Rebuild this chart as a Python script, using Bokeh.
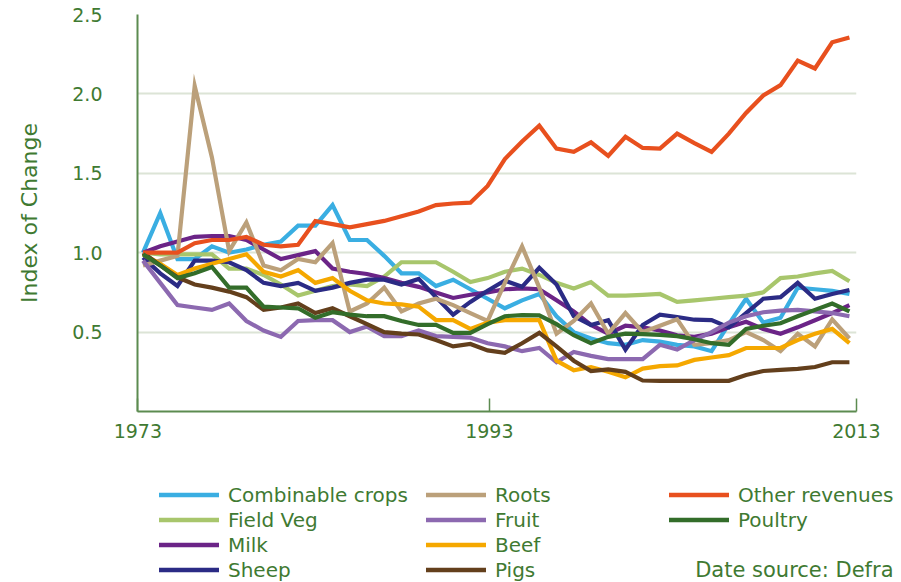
from bokeh.plotting import figure
from bokeh.layouts import column
from bokeh.models import (FixedTicker, CustomJSTickFormatter, PrintfTickFormatter,
                          Legend, LegendItem, Label, Range1d)
from bokeh.embed import file_html
from bokeh.resources import INLINE

# ---------------- data ----------------
years = list(range(1973, 2015))
x_tick_labels = ["1973", "1993", "2013"]
y_ticks = [0.5, 1.0, 1.5, 2.0, 2.5]

combinable_crops = [1.0, 1.25, 0.96, 0.96, 1.04, 1.0, 1.02, 1.05, 1.07, 1.17, 1.17, 1.30, 1.08, 1.08,
                    0.98, 0.87, 0.87, 0.79, 0.83, 0.77, 0.71, 0.65, 0.70, 0.74, 0.60, 0.50, 0.46, 0.43,
                    0.42, 0.45, 0.44, 0.42, 0.41, 0.38, 0.55, 0.71, 0.56, 0.59, 0.78, 0.77, 0.76, 0.74]
field_veg = [1.0, 0.99, 0.99, 0.99, 0.99, 0.90, 0.90, 0.86, 0.80, 0.73, 0.76, 0.79, 0.80, 0.79,
             0.85, 0.94, 0.94, 0.94, 0.88, 0.815, 0.84, 0.88, 0.90, 0.86, 0.81, 0.775, 0.815, 0.73,
             0.73, 0.735, 0.74, 0.69, 0.70, 0.71, 0.72, 0.73, 0.75, 0.84, 0.85, 0.87, 0.885, 0.82]
milk = [1.0, 1.04, 1.07, 1.10, 1.105, 1.105, 1.08, 1.02, 0.96, 0.985, 1.01, 0.90, 0.88, 0.866,
        0.84, 0.81, 0.785, 0.75, 0.715, 0.735, 0.75, 0.77, 0.775, 0.77, 0.70, 0.63, 0.545, 0.49,
        0.54, 0.53, 0.51, 0.48, 0.47, 0.49, 0.53, 0.565, 0.52, 0.49, 0.53, 0.575, 0.62, 0.67]
sheep = [0.97, 0.87, 0.79, 0.95, 0.95, 0.94, 0.89, 0.81, 0.79, 0.81, 0.76, 0.78, 0.81, 0.83,
         0.83, 0.80, 0.835, 0.72, 0.61, 0.69, 0.76, 0.825, 0.785, 0.905, 0.80, 0.60, 0.545, 0.575,
         0.39, 0.545, 0.61, 0.595, 0.578, 0.576, 0.53, 0.62, 0.71, 0.72, 0.81, 0.71, 0.74, 0.765]
roots = [0.92, 0.95, 0.98, 2.05, 1.60, 1.01, 1.19, 0.92, 0.89, 0.96, 0.94, 1.06, 0.63, 0.68,
         0.78, 0.63, 0.68, 0.71, 0.67, 0.62, 0.57, 0.81, 1.04, 0.78, 0.49, 0.57, 0.68, 0.49,
         0.62, 0.50, 0.54, 0.58, 0.42, 0.43, 0.45, 0.50, 0.45, 0.38, 0.49, 0.41, 0.58, 0.46]
fruit = [0.95, 0.81, 0.67, 0.655, 0.64, 0.68, 0.57, 0.51, 0.47, 0.57, 0.575, 0.575, 0.50, 0.535,
         0.475, 0.475, 0.51, 0.475, 0.47, 0.465, 0.43, 0.41, 0.38, 0.40, 0.31, 0.375, 0.35, 0.33,
         0.33, 0.33, 0.42, 0.39, 0.45, 0.50, 0.56, 0.60, 0.625, 0.635, 0.64, 0.63, 0.62, 0.60]
beef = [0.99, 0.93, 0.86, 0.90, 0.93, 0.96, 0.99, 0.88, 0.85, 0.89, 0.81, 0.84, 0.76, 0.70,
        0.68, 0.675, 0.66, 0.576, 0.576, 0.52, 0.56, 0.575, 0.575, 0.575, 0.32, 0.26, 0.28, 0.25,
        0.215, 0.27, 0.286, 0.29, 0.325, 0.34, 0.355, 0.40, 0.40, 0.40, 0.45, 0.49, 0.52, 0.43]
pigs = [1.0, 0.92, 0.845, 0.80, 0.78, 0.755, 0.72, 0.64, 0.655, 0.68, 0.62, 0.65, 0.60, 0.55,
        0.50, 0.49, 0.485, 0.45, 0.41, 0.425, 0.385, 0.37, 0.43, 0.495, 0.41, 0.32, 0.255, 0.265,
        0.25, 0.195, 0.193, 0.193, 0.193, 0.193, 0.193, 0.23, 0.255, 0.262, 0.268, 0.28, 0.31, 0.31]
other_revenues = [1.0, 1.0, 1.0, 1.06, 1.08, 1.08, 1.10, 1.05, 1.04, 1.05, 1.20, 1.18, 1.16, 1.18,
                  1.20, 1.23, 1.26, 1.30, 1.31, 1.315, 1.42, 1.59, 1.70, 1.80, 1.655, 1.635, 1.695, 1.61,
                  1.73, 1.66, 1.655, 1.75, 1.69, 1.635, 1.75, 1.88, 1.99, 2.055, 2.21, 2.16, 2.325, 2.355]
poultry = [0.99, 0.92, 0.84, 0.87, 0.91, 0.78, 0.78, 0.66, 0.655, 0.65, 0.59, 0.625, 0.61, 0.60,
           0.60, 0.57, 0.545, 0.545, 0.495, 0.495, 0.55, 0.60, 0.607, 0.605, 0.55, 0.48, 0.43, 0.47,
           0.49, 0.487, 0.483, 0.475, 0.455, 0.43, 0.42, 0.52, 0.54, 0.556, 0.60, 0.64, 0.68, 0.63]

series_names = ["Combinable crops", "Field Veg", "Milk", "Sheep",
                "Roots", "Fruit", "Beef", "Pigs",
                "Other revenues", "Poultry"]
series_values = [combinable_crops, field_veg, milk, sheep,
                 roots, fruit, beef, pigs,
                 other_revenues, poultry]
series_colors = ["#3aaee2", "#a8c66c", "#6b2487", "#2b2b85",
                 "#bba07a", "#8c69b0", "#f5a800", "#633f1c",
                 "#e8501e", "#336d2a"]
source_note = "Date source: Defra"
y_axis_title = "Index of Change"

# ---------------- style ----------------
FONT = "DejaVu Sans"
TEXT = "#3f7a32"
AXIS = "#5c8b50"
GRID = "#dce4d6"
W = 900
LW = 4.2

# ---------------- main chart ----------------
p = figure(frame_width=719, frame_height=397,
           min_border_left=137, min_border_right=44, min_border_top=14, min_border_bottom=40,
           x_range=Range1d(1972.68, 2014.41), y_range=Range1d(0, 2.5),
           output_backend="svg", toolbar_location=None)
p.frame_align = False
p.outline_line_color = None
p.background_fill_color = "white"
p.border_fill_color = "white"

p.xaxis.ticker = FixedTicker(ticks=[1972.7, 1993.1, 2014.4])
p.xaxis.formatter = CustomJSTickFormatter(args=dict(labels=x_tick_labels), code="return labels[index];")
p.xaxis.major_tick_in = 13
p.xaxis.major_tick_out = 0
p.xaxis.minor_tick_line_color = None
p.xaxis.axis_line_color = AXIS
p.xaxis.axis_line_width = 2
p.xaxis.major_tick_line_color = AXIS
p.xaxis.major_tick_line_width = 1.5
p.xaxis.major_label_text_font = FONT
p.xaxis.major_label_text_font_size = "19px"
p.xaxis.major_label_text_color = TEXT
p.xaxis.major_label_standoff = 12

p.yaxis.ticker = FixedTicker(ticks=y_ticks)
p.yaxis.formatter = PrintfTickFormatter(format="%.1f")
p.yaxis.major_tick_in = 0
p.yaxis.major_tick_out = 0
p.yaxis.minor_tick_line_color = None
p.yaxis.axis_line_color = AXIS
p.yaxis.axis_line_width = 2
p.yaxis.major_label_text_font = FONT
p.yaxis.major_label_text_font_size = "19px"
p.yaxis.major_label_text_color = TEXT
p.yaxis.major_label_standoff = 35
p.yaxis.axis_label = y_axis_title
p.yaxis.axis_label_text_font = FONT
p.yaxis.axis_label_text_font_size = "22px"
p.yaxis.axis_label_text_font_style = "normal"
p.yaxis.axis_label_text_color = TEXT
p.yaxis.axis_label_standoff = 27

p.xgrid.visible = False
p.ygrid.ticker = FixedTicker(ticks=y_ticks)
p.ygrid.grid_line_color = GRID
p.ygrid.grid_line_width = 2

for name, vals, col in zip(series_names, series_values, series_colors):
    p.line(years, vals, line_color=col, line_width=LW, line_join="miter")

# ---------------- legend strip (same series, outside its visible range) ----------------
LH = 131
q = figure(width=W, height=LH, x_range=Range1d(0, W), y_range=Range1d(0, LH),
           min_border_left=0, min_border_right=0, min_border_top=0, min_border_bottom=0,
           x_axis_type=None, y_axis_type=None, output_backend="svg", toolbar_location=None)
q.frame_align = False
q.outline_line_color = None
q.xgrid.visible = False
q.ygrid.visible = False
q.background_fill_color = "white"
q.border_fill_color = "white"

legend_renderers = []
for vals, col in zip(series_values, series_colors):
    legend_renderers.append(q.line(years, vals, line_color=col, line_width=4.5, line_cap="round"))
items = [LegendItem(label=n, renderers=[r]) for n, r in zip(series_names, legend_renderers)]


def add_legend(its, loc):
    lg = Legend(items=its, location=loc, orientation="vertical",
                padding=0, margin=0, spacing=0,
                glyph_width=60, glyph_height=25, label_height=25, label_standoff=9,
                label_text_font=FONT, label_text_font_size="20px", label_text_color=TEXT,
                background_fill_alpha=0, border_line_alpha=0)
    q.add_layout(lg, "center")


add_legend(items[0:4], (159, 0))
add_legend(items[4:8], (426, 0))
add_legend(items[8:10], (669, 50))

q.add_layout(Label(x=893, y=13, text=source_note, text_align="right",
                   text_baseline="middle", text_font=FONT, text_font_size="21px",
                   text_color=TEXT))

layout = column(p, q, spacing=0)
open("out.html", "w").write(file_html(layout, INLINE))
